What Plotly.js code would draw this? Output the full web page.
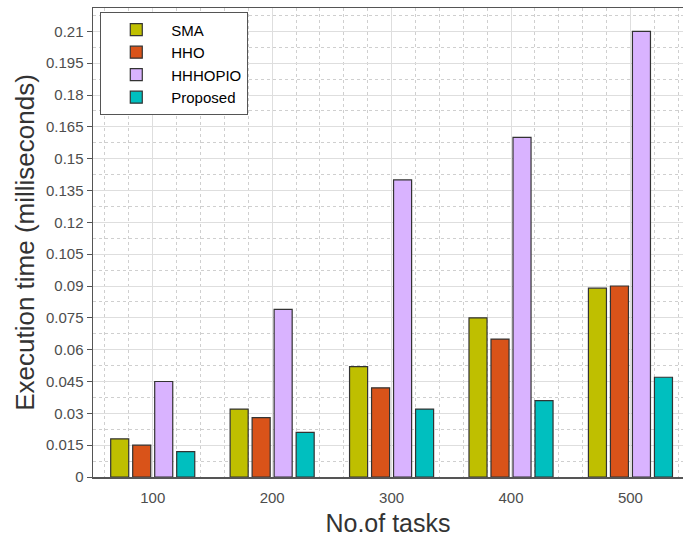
<!DOCTYPE html>
<html>
<head>
<meta charset="utf-8">
<script src="https://cdn.plot.ly/plotly-3.0.1.min.js"></script>
<style>html,body{margin:0;padding:0;background:#fff;}#chart{width:683px;height:543px;}</style>
</head>
<body>
<div id="chart"></div>
<script>
const tasks = [100, 200, 300, 400, 500];
const seriesNames = ["SMA", "HHO", "HHHOPIO", "Proposed"];
const sma = [0.018, 0.032, 0.052, 0.075, 0.089];
const hho = [0.015, 0.028, 0.042, 0.065, 0.090];
const hhhopio = [0.045, 0.079, 0.140, 0.160, 0.210];
const proposed = [0.012, 0.021, 0.032, 0.036, 0.047];
const colors = ["#BFBF00", "#D95319", "#D9B3FF", "#00BFBF"];

const allSeries = [sma, hho, hhhopio, proposed];
const traces = allSeries.map((vals, i) => ({
  type: "bar",
  name: seriesNames[i],
  x: tasks,
  y: vals,
  marker: { color: colors[i], line: { color: "#333333", width: 1.2 } }
}));

const font = "Liberation Sans, Arial, sans-serif";
const layout = {
  width: 683, height: 543,
  margin: { l: 93, r: 0, t: 8, b: 66 },
  paper_bgcolor: "#ffffff", plot_bgcolor: "#ffffff",
  barmode: "group", bargap: 0.263, bargroupgap: 0.18,
  font: { family: font, color: "#262626" },
  showlegend: true,
  legend: {
    x: 0.012, y: 0.991, xanchor: "left", yanchor: "top",
    bgcolor: "#ffffff", bordercolor: "#555555", borderwidth: 1.2,
    font: { family: font, size: 15, color: "#000000" },
    tracegroupgap: 0, itemwidth: 60
  },
  xaxis: {
    range: [50, 544],
    tickmode: "array", tickvals: tasks, ticktext: tasks.map(String),
    showgrid: true, gridcolor: "#dedede", gridwidth: 1,
    minor: { dtick: 20, tick0: 0, showgrid: true, gridcolor: "#cfcfcf", griddash: "dot", gridwidth: 1 },
    showline: true, linecolor: "#555555", linewidth: 1.5, mirror: true,
    ticks: "outside", ticklen: 6, tickcolor: "rgba(0,0,0,0)", zeroline: false,
    tickfont: { family: font, size: 15, color: "#4d4d4d" },
    title: { text: "No.of tasks", font: { family: font, size: 25, color: "#333333" }, standoff: 10 }
  },
  yaxis: {
    range: [0, 0.221],
    tick0: 0, dtick: 0.015,
    showgrid: true, gridcolor: "#dedede", gridwidth: 1,
    minor: { dtick: 0.0075, tick0: 0, showgrid: true, gridcolor: "#cfcfcf", griddash: "dot", gridwidth: 1 },
    showline: true, linecolor: "#555555", linewidth: 1.5, mirror: true,
    ticks: "outside", ticklen: 5, tickcolor: "#555555", zeroline: false,
    tickfont: { family: font, size: 15, color: "#4d4d4d" },
    title: { text: "Execution time (milliseconds)", font: { family: font, size: 26, color: "#333333" }, standoff: 4 }
  }
};

Plotly.newPlot("chart", traces, layout, { displayModeBar: false, staticPlot: true });
</script>
</body>
</html>
